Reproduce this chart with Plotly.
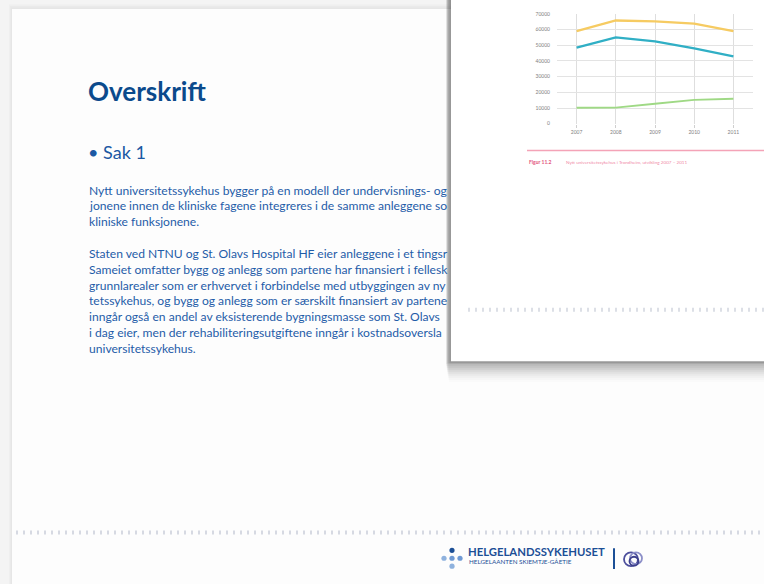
import plotly.graph_objects as go

W, H = 764, 584

# ---------------- chart data ----------------
years = [2007, 2008, 2009, 2010, 2011]
series_yellow = [59000, 65800, 65200, 63800, 59000]
series_teal = [48500, 55000, 52500, 48000, 43000]
series_green = [10200, 10300, 12700, 15200, 15900]
y_ticks = [0, 10000, 20000, 30000, 40000, 50000, 60000, 70000]

title_text = "Overskrift"
bullet_text = "• Sak 1"
para1 = [
    "Nytt universitetssykehus bygger på en modell der undervisnings- og",
    "jonene innen de kliniske fagene integreres i de samme anleggene so",
    "kliniske funksjonene.",
]
para2 = [
    "Staten ved NTNU og St. Olavs Hospital HF eier anleggene i et tingsr",
    "Sameiet omfatter bygg og anlegg som partene har finansiert i fellesk",
    "grunnlarealer som er erhvervet i forbindelse med utbyggingen av ny",
    "tetssykehus, og bygg og anlegg som er særskilt finansiert av partene",
    "inngår også en andel av eksisterende bygningsmasse som St. Olavs",
    "i dag eier, men der rehabiliteringsutgiftene inngår i kostnadsoversla",
    "universitetssykehus.",
]


def px(x):
    return x / W


def py(y):
    return 1 - y / H


fig = go.Figure()

for name, vals, col, w in [
    ("A", series_yellow, "#f6cb62", 2.3),
    ("B", series_teal, "#30afc5", 2.3),
    ("C", series_green, "#9fd985", 1.9),
]:
    fig.add_trace(go.Scatter(x=years, y=vals, mode="lines", name=name,
                             line=dict(color=col, width=w), hoverinfo="skip"))

shapes = []
# grey surround (left and top strips) of the slide page
for i, c in enumerate(["#e6e6e6", "#eaeaea", "#efefef", "#f4f4f4"]):
    shapes.append(dict(type="rect", xref="paper", yref="paper",
                       x0=0, x1=px(12 - i), y0=-0.05, y1=1.05,
                       fillcolor=c, line=dict(width=0), layer="below"))
    shapes.append(dict(type="rect", xref="paper", yref="paper",
                       x0=0, x1=1.05, y0=py(6 - i * 1.5), y1=1.05,
                       fillcolor=c, line=dict(width=0), layer="below"))
# slide dotted strip
shapes.append(dict(type="line", xref="paper", yref="paper", x0=px(16), x1=1,
                   y0=py(535), y1=py(535),
                   line=dict(color="#d6d9e2", width=4, dash="2px,5px"), layer="below"))
# card shadow
for i, op in enumerate([0.05, 0.05, 0.045, 0.04, 0.035, 0.03, 0.025, 0.02, 0.015, 0.01]):
    shapes.append(dict(type="rect", xref="paper", yref="paper",
                       x0=px(446 + i * 0.3), x1=1.05, y0=py(363 + 2 * (i + 1)), y1=1.05,
                       fillcolor="rgba(0,0,0,%.3f)" % op, line=dict(width=0), layer="below"))
for i in range(4):
    shapes.append(dict(type="rect", xref="paper", yref="paper",
                       x0=px(447 + i), x1=1.05, y0=py(362 + 2), y1=1.05,
                       fillcolor="rgba(0,0,0,0.035)", line=dict(width=0), layer="below"))
# card
shapes.append(dict(type="rect", xref="paper", yref="paper", x0=px(451), x1=1.05, y0=py(362), y1=1.05,
                   fillcolor="#ffffff", line=dict(width=0), layer="below"))
# card dotted strip
shapes.append(dict(type="line", xref="paper", yref="paper", x0=px(468), x1=1,
                   y0=py(310), y1=py(310),
                   line=dict(color="#dcdfe6", width=4, dash="2px,5px"), layer="below"))
# caption rule
shapes.append(dict(type="line", xref="paper", yref="paper", x0=px(527), x1=1,
                   y0=py(149), y1=py(149), line=dict(color="#f4a3b7", width=1.5)))
# footer logo dots
for (cx, cy, col) in [(452, 553, "#1c4f96"), (444, 561, "#8fb2de"), (452, 561, "#6f9ad4"),
                      (460, 561, "#6f9ad4"), (452, 569, "#8fb2de")]:
    shapes.append(dict(type="circle", xref="paper", yref="paper",
                       x0=px(cx - 2.6), x1=px(cx + 2.6), y0=py(cy + 2.6), y1=py(cy - 2.6),
                       fillcolor=col, line=dict(width=0)))
# footer vertical bar
shapes.append(dict(type="line", xref="paper", yref="paper", x0=px(614), x1=px(614),
                   y0=py(551), y1=py(572), line=dict(color="#1c4f96", width=2)))
# ring logo
for (cx, cy, r, col) in [(631, 562, 7, "#4d4f9c"), (636, 561, 6, "#8c8fc8"), (634, 564, 4.5, "#3c3f8c")]:
    shapes.append(dict(type="circle", xref="paper", yref="paper",
                       x0=px(cx - r), x1=px(cx + r), y0=py(cy + r), y1=py(cy - r),
                       fillcolor="rgba(0,0,0,0)", line=dict(color=col, width=1.8)))

annotations = []
annotations.append(dict(text="<b>%s</b>" % title_text, x=px(86), y=py(89), xref="paper", yref="paper",
                        xanchor="left", yanchor="middle", showarrow=False,
                        font=dict(family="Lato", size=26, color="#0b4a8c")))
annotations.append(dict(text=bullet_text, x=px(86), y=py(151), xref="paper", yref="paper",
                        xanchor="left", yanchor="middle", showarrow=False,
                        font=dict(family="Lato", size=18, color="#1b58a3")))
body_font = dict(family="Lato", size=12.1, color="#1f5ca8")
for i, line in enumerate(para1):
    annotations.append(dict(text=line, x=px(87), y=py(189 + 16 * i), xref="paper", yref="paper",
                            xanchor="left", yanchor="middle", showarrow=False, font=body_font))
for i, line in enumerate(para2):
    annotations.append(dict(text=line, x=px(87), y=py(253 + 16 * i), xref="paper", yref="paper",
                            xanchor="left", yanchor="middle", showarrow=False, font=body_font))
# caption
annotations.append(dict(text="<b>Figur 11.2</b>", x=px(527), y=py(161), xref="paper", yref="paper",
                        xanchor="left", yanchor="middle", showarrow=False,
                        font=dict(family="Lato", size=5, color="#e2557c")))
annotations.append(dict(text="Nytt universitetssykehus i Trondheim, utvikling 2007 – 2011",
                        x=px(564), y=py(161), xref="paper", yref="paper",
                        xanchor="left", yanchor="middle", showarrow=False,
                        font=dict(family="Lato", size=4.6, color="#f08aa6")))
# footer text
annotations.append(dict(text="<b>HELGELANDSSYKEHUSET</b>", x=px(466), y=py(554), xref="paper", yref="paper",
                        xanchor="left", yanchor="middle", showarrow=False,
                        font=dict(family="Lato", size=11.3, color="#1c4f96")))
annotations.append(dict(text="HELGELAANTEN SKIEMTJE-GÅETIE", x=px(467), y=py(564), xref="paper", yref="paper",
                        xanchor="left", yanchor="middle", showarrow=False,
                        font=dict(family="Lato", size=6.3, color="#1c4f96")))

fig.update_layout(
    width=W, height=H, margin=dict(l=0, r=0, t=0, b=0),
    paper_bgcolor="#fdfdfd", plot_bgcolor="rgba(0,0,0,0)",
    showlegend=False, shapes=shapes, annotations=annotations,
    xaxis=dict(domain=[px(557), px(753)], range=[2006.5, 2011.5], tickvals=years,
               ticktext=[str(y) for y in years], showgrid=True, gridcolor="#dedede", gridwidth=1,
               zeroline=False, showline=False, ticks="outside", ticklen=3, tickcolor="#cfcfcf",
               tickfont=dict(family="Lato", size=5, color="#808080"), fixedrange=True),
    yaxis=dict(domain=[py(122), py(11)], range=[0, 70000], tickvals=y_ticks,
               ticktext=[str(v) for v in y_ticks], showgrid=True, gridcolor="#e3e3e3", gridwidth=1,
               zeroline=False, showline=False, ticks="", ticklabelstandoff=6,
               tickfont=dict(family="Lato", size=5, color="#808080"), fixedrange=True),
)

fig.write_html("out.html", config={"displayModeBar": False, "staticPlot": True},
               post_script="document.body.style.margin='0';document.body.style.overflow='hidden';")
